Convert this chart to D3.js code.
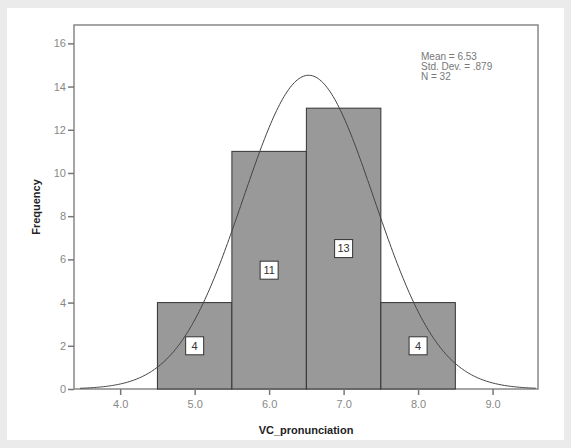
<!DOCTYPE html>
<html><head><meta charset="utf-8">
<script src="https://cdn.jsdelivr.net/npm/d3@7"></script>
<style>body{margin:0;background:#ebebeb;}</style>
</head><body>
<script>
var binStarts = [4.5, 5.5, 6.5, 7.5];
var counts = [4, 11, 13, 4];
var xTicks = [4, 5, 6, 7, 8, 9];
var yTicks = [0, 2, 4, 6, 8, 10, 12, 14, 16];
var mean = 6.53, sd = 0.879, n = 32;
var statLines = ["Mean = 6.53", "Std. Dev. = .879", "N = 32"];

var W = 571, H = 448;
var svg = d3.select("body").append("svg").attr("width", W).attr("height", H);
svg.append("rect").attr("x", 7).attr("y", 8).attr("width", 557).attr("height", 432).attr("fill", "#fff");

var x = d3.scaleLinear().domain([3.38, 9.61]).range([74, 538]);
var y = d3.scaleLinear().domain([0, 16.85]).range([389, 25]);

svg.append("rect").attr("x", 74).attr("y", 25).attr("width", 464).attr("height", 364)
	.attr("fill", "none").attr("stroke", "#888").attr("stroke-width", 1.5);

svg.selectAll("rect.bar").data(counts).enter().append("rect").attr("class", "bar")
	.attr("x", function(d, i){ return x(binStarts[i]); })
	.attr("y", function(d){ return y(d); })
	.attr("width", function(d, i){ return x(binStarts[i] + 1) - x(binStarts[i]); })
	.attr("height", function(d){ return y(0) - y(d); })
	.attr("fill", "#999").attr("stroke", "#333").attr("stroke-width", 1);

var labels = svg.selectAll("g.lab").data(counts).enter().append("g")
	.attr("transform", function(d, i){ return "translate(" + x(binStarts[i] + 0.5) + "," + y(d / 2) + ")"; });
labels.append("rect").attr("x", -9).attr("y", -9).attr("width", 18).attr("height", 18)
	.attr("fill", "#fff").attr("stroke", "#333");
labels.append("text").text(function(d){ return d; }).attr("text-anchor", "middle").attr("dy", "0.35em")
	.attr("font-family", "Arial, Liberation Sans").attr("font-size", 11).attr("fill", "#333");

var pts = d3.range(x.domain()[0] + 0.08, 9.6, 0.02).map(function(v){
	return [v, n / (sd * Math.sqrt(2 * Math.PI)) * Math.exp(-0.5 * Math.pow((v - mean) / sd, 2))];
});
svg.append("path").datum(pts)
	.attr("d", d3.line().x(function(d){ return x(d[0]); }).y(function(d){ return y(d[1]); }))
	.attr("fill", "none").attr("stroke", "#444").attr("stroke-width", 1);

var xa = svg.append("g").attr("transform", "translate(0,389)")
	.call(d3.axisBottom(x).tickValues(xTicks).tickFormat(d3.format(".1f")).tickSize(6).tickPadding(5));
var ya = svg.append("g").attr("transform", "translate(74,0)")
	.call(d3.axisLeft(y).tickValues(yTicks).tickSize(6).tickPadding(2));
[xa, ya].forEach(function(a){
	a.select(".domain").remove();
	a.selectAll("line").attr("stroke", "#777").attr("stroke-width", 1.5);
	a.selectAll("text").attr("fill", "#888").attr("font-family", "Arial, Liberation Sans").attr("font-size", 11);
});

svg.append("text").text("VC_pronunciation").attr("x", 306).attr("y", 434).attr("text-anchor", "middle")
	.attr("font-family", "Arial, Liberation Sans").attr("font-size", 11).attr("font-weight", "bold").attr("fill", "#222");
svg.append("text").text("Frequency").attr("transform", "translate(40,207) rotate(-90)").attr("text-anchor", "middle")
	.attr("font-family", "Arial, Liberation Sans").attr("font-size", 11).attr("font-weight", "bold").attr("fill", "#222");

svg.selectAll("text.stat").data(statLines).enter().append("text")
	.text(function(d){ return d; }).attr("x", 421).attr("y", function(d, i){ return 60 + i * 10; })
	.attr("font-family", "Arial, Liberation Sans").attr("font-size", 10).attr("fill", "#777");
</script>
</body></html>
